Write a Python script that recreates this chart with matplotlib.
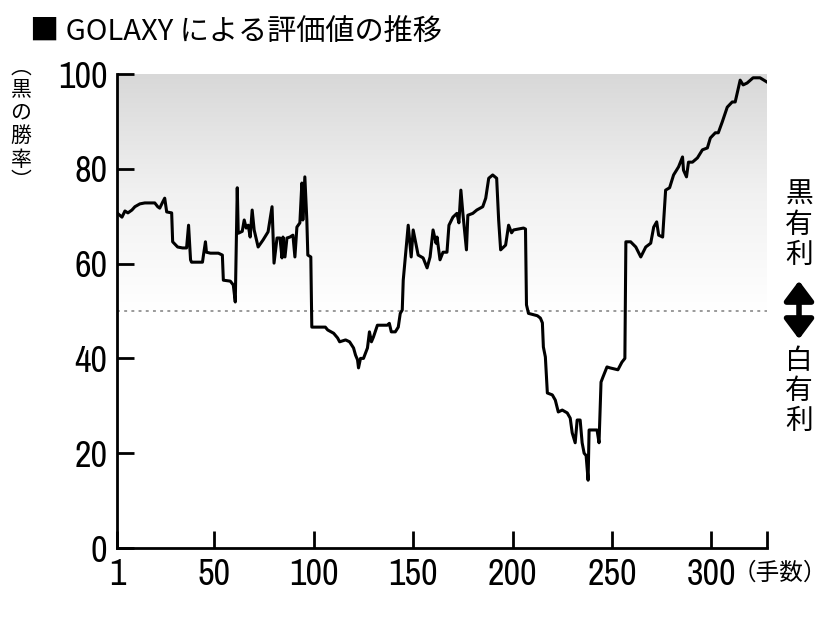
import matplotlib.pyplot as plt
import matplotlib.font_manager as fm
import numpy as np
from matplotlib.colors import LinearSegmentedColormap
from matplotlib.patches import FancyArrowPatch

# move number / black win rate (%)
moves = [1, 3.5, 5, 6.5, 8.5, 10, 12.5, 15, 20, 21.5, 22.5, 24, 25, 26, 28.5,
         29, 31.5, 34, 36, 37, 38, 38.5, 44, 44.5, 45.5, 46, 48, 52, 54,
         54.5, 58, 59.5, 60.5, 61.5, 62, 64, 65, 66, 67, 68, 69, 70, 72,
         74.5, 77, 79, 80, 81.5, 83, 84, 84.5, 85.5, 86.5, 88, 89.5, 90.5,
         91.5, 93, 94, 94.5, 95.5, 96.5, 97, 98.5, 99, 105.8, 107, 110, 112,
         113, 116, 118, 120, 121, 122, 122.5, 123.5, 125, 127, 128, 129, 130,
         132, 137, 138, 139, 141, 142.5, 143.5, 144.5, 145, 147.5, 149, 150,
         151, 152.5, 155, 157, 158.5, 160, 161.5, 162, 163.5, 165, 167, 168,
         170, 172, 173, 174, 175, 176.8, 177.5, 180, 182, 185, 186.5, 188,
         190, 192, 193, 194, 196.5, 198, 199.5, 200.5, 205.5, 206.5, 207,
         208, 212.5, 214, 215, 215.5, 216.5, 217.5, 220, 221.5, 223, 225,
         227.5, 229, 230, 231.5, 232.5, 234, 235, 236, 237, 238, 238.5,
         242.5, 243.5, 244.5, 245.5, 247.5, 249, 253, 255, 256.5, 257,
         259.4, 262, 264.5, 267, 269.5, 271, 272.5, 273.5, 275.5, 277, 279,
         281, 283.5, 285.5, 286, 287.5, 288.5, 290.5, 293, 295.5, 298, 299.5,
         302, 303.5, 305.5, 308, 310.5, 312, 314.5, 316, 318, 321, 324.5, 328]
winrate = [70.7, 69.8, 71.1, 70.7, 71.3, 72.0, 72.6, 72.8, 72.8, 72.0, 71.7,
           73.0, 73.8, 70.9, 70.7, 64.6, 63.5, 63.3, 63.3, 68.1, 60.8, 60.3,
           60.3, 61.8, 64.6, 62.4, 62.2, 62.2, 61.8, 56.5, 56.3, 55.5, 51.9,
           76.0, 66.4, 66.8, 69.2, 67.5, 68.1, 65.6, 71.3, 67.1, 63.5, 65.0,
           66.7, 72.0, 60.1, 65.4, 65.4, 61.2, 65.6, 61.4, 65.4, 65.6, 66.0,
           61.4, 67.7, 68.6, 77.0, 69.2, 78.3, 69.2, 61.8, 61.4, 46.6, 46.6,
           46.0, 45.3, 44.3, 43.5, 43.9, 43.5, 42.2, 40.7, 39.7, 38.0, 40.0,
           40.0, 42.2, 45.6, 43.5, 44.5, 47.0, 47.0, 47.4, 45.6, 45.6, 46.6,
           49.5, 50.2, 56.5, 68.1, 61.4, 67.1, 65.0, 61.8, 61.2, 59.1, 61.4,
           67.1, 64.3, 65.6, 60.8, 62.4, 62.4, 68.1, 69.8, 70.6, 68.6, 75.5,
           70.6, 62.9, 70.2, 70.6, 71.3, 72.0, 73.8, 78.0, 78.7, 78.0, 69.2,
           62.9, 63.9, 68.1, 66.5, 67.1, 67.5, 67.3, 51.3, 49.5, 49.0, 48.5,
           47.5, 42.4, 40.3, 32.7, 32.3, 31.2, 28.7, 29.1, 28.5, 27.4, 24.3,
           22.2, 27.0, 27.0, 22.2, 20.0, 19.5, 14.3, 24.9, 24.9, 22.2, 35.0,
           36.1, 38.2, 38.0, 37.6, 39.2, 40.0, 64.6, 64.6, 63.5, 61.4, 63.5,
           64.3, 67.7, 68.8, 66.0, 65.6, 75.5, 76.0, 78.7, 80.4, 82.5, 79.7,
           78.3, 81.4, 81.4, 82.3, 84.0, 84.4, 86.5, 87.6, 87.6, 89.9, 93.0,
           94.1, 94.1, 98.7, 97.7, 98.1, 99.2, 99.2, 98.3]

xticks = [1, 50, 100, 150, 200, 250, 300]
yticks = [0, 20, 40, 60, 80, 100]
title = '■ GOLAXY による評価値の推移'
ylabel_chars = ['︵', '黒', 'の', '勝', '率', '︶']
black_side = ['黒', '有', '利']
white_side = ['白', '有', '利']

# look for a condensed face for the numbers, else plain Liberation Sans
names = sorted({f.name for f in fm.fontManager.ttflist})
narrow = [n for n in names if 'Narrow' in n or 'Condensed' in n]
num_font = narrow[0] if narrow else 'Liberation Sans'
num_size = 26 if narrow else 22
jp_font = 'Noto Sans CJK JP'
plt.rcParams['font.family'] = [num_font, jp_font, 'DejaVu Sans']

W, H = 833, 632
fig = plt.figure(figsize=(W / 100, H / 100), dpi=100)
ax = fig.add_axes([117 / W, 1 - 548 / H, 650 / W, 474 / H])

# grey shading above 50%
grad = np.linspace(0, 1, 256).reshape(-1, 1)
cmap = LinearSegmentedColormap.from_list('shade', ['#ffffff', '#f1f1f1', '#d8d8d8'])
ax.imshow(grad, extent=[1, 328, 50, 100], origin='lower', aspect='auto',
          cmap=cmap, zorder=0, interpolation='bicubic')

ax.axhline(50, color='#9a9a9a', lw=1.4, ls=(0, (1.5, 2.2)), zorder=1)
ax.plot(moves, winrate, color='black', lw=2.2, zorder=3)

ax.set_xlim(1, 328)
ax.set_ylim(0, 100)
ax.spines['top'].set_visible(False)
ax.spines['right'].set_visible(False)
for s in ['left', 'bottom']:
    ax.spines[s].set_linewidth(2)
ax.set_xticks(xticks)
ax.set_yticks(yticks)
ax.set_xticks([328], minor=True)
ax.tick_params(which='both', direction='in', length=12.5, width=2,
               labelsize=num_size, pad=7, colors='black')

fig.text(30 / W, 1 - 33 / H, title, fontsize=21, family=[jp_font],
         ha='left', va='center')

ylab_y = [68, 89, 112, 136, 160, 181]
for ch, yy in zip(ylabel_chars, ylab_y):
    fig.text(21 / W, 1 - yy / H, ch, fontsize=15, family=[jp_font],
             ha='center', va='center')

for ch, yy in zip(black_side, [195, 225, 255]):
    fig.text(799 / W, 1 - yy / H, ch, fontsize=20, family=[jp_font],
             ha='center', va='center')
for ch, yy in zip(white_side, [361, 391, 421]):
    fig.text(799 / W, 1 - yy / H, ch, fontsize=20, family=[jp_font],
             ha='center', va='center')

arrow = FancyArrowPatch((799 / W, 1 - 278 / H), (799 / W, 1 - 342 / H),
                        transform=fig.transFigure, color='black',
                        arrowstyle='<|-|>,head_length=0.6,head_width=0.45',
                        mutation_scale=20, lw=4)
fig.add_artist(arrow)

fig.text(733 / W, 1 - 573 / H, '（手数）', fontsize=17, family=[jp_font],
         ha='left', va='center')

plt.savefig('out.png', dpi=100)
